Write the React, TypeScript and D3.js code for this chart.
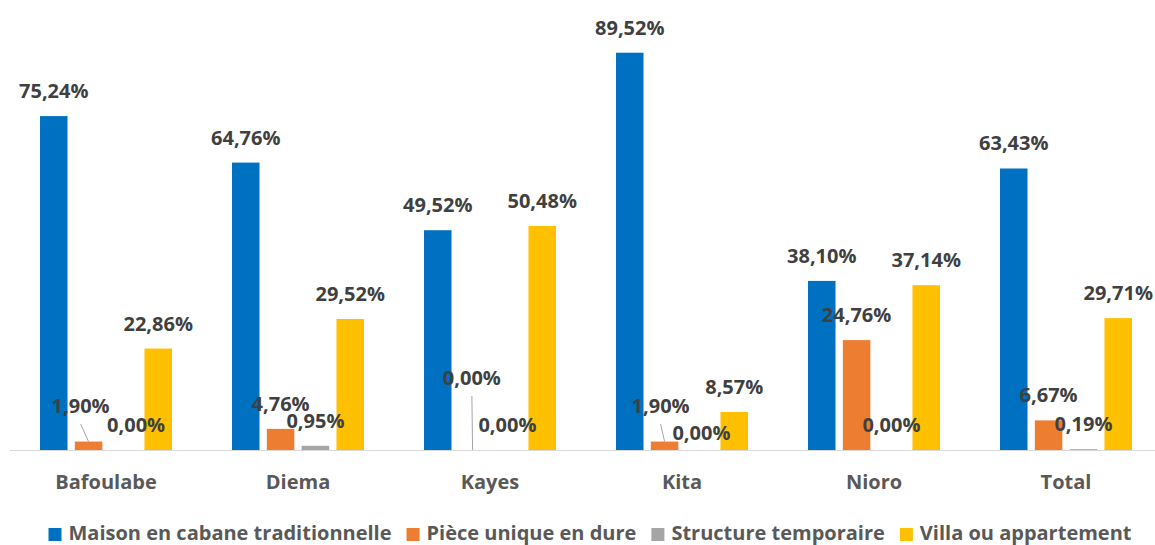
import React, { useRef, useLayoutEffect, useState } from 'react';
import * as d3 from 'd3';

const categories = ['Bafoulabe', 'Diema', 'Kayes', 'Kita', 'Nioro', 'Total'];
const seriesNames = [
  'Maison en cabane traditionnelle',
  'Pièce unique en dure',
  'Structure temporaire',
  'Villa ou appartement',
];
const maison = [75.24, 64.76, 49.52, 89.52, 38.1, 63.43];
const piece = [1.9, 4.76, 0.0, 1.9, 24.76, 6.67];
const structure = [0.0, 0.95, 0.0, 0.0, 0.0, 0.19];
const villa = [22.86, 29.52, 50.48, 8.57, 37.14, 29.71];
const seriesValues = [maison, piece, structure, villa];
const colors = ['#0070C0', '#ED7D31', '#A5A5A5', '#FFC000'];

// labels that were dragged by hand in the original, keyed "series-category"
const nudges: Record<string, { dx: number; dy: number; leader?: boolean }> = {
  '1-0': { dx: -8, dy: -10.6, leader: true },
  '2-0': { dx: 12.7, dy: 0 },
  '1-2': { dx: -0.7, dy: -47, leader: true },
  '1-3': { dx: -4, dy: -10.6, leader: true },
  '2-3': { dx: 2, dy: 8 },
};

const width = 1155;
const height = 545;
const baseY = 450;
const font = '"Open Sans", sans-serif';

const fmt = (v: number) => v.toFixed(2).replace('.', ',') + '%';

export default function App() {
  const legendRef = useRef<SVGGElement>(null);
  const [legendX, setLegendX] = useState<number[]>([54, 414, 654, 897]);

  const x0 = d3.scaleBand<string>().domain(categories).range([10, 1162]).padding(0);
  const x1 = d3
    .scaleBand<number>()
    .domain([0, 1, 2, 3])
    .range([x0.bandwidth() / 2 - 66, x0.bandwidth() / 2 + 66])
    .paddingInner(0.21);
  const y = d3.scaleLinear().domain([0, 100]).range([baseY, baseY - 443.8]);

  useLayoutEffect(() => {
    if (!legendRef.current) return;
    const texts = d3.select(legendRef.current).selectAll<SVGTextElement, unknown>('text').nodes();
    const widths = texts.map((t) => t.getComputedTextLength());
    const box = 13, gapIn = 7, gapOut = 15;
    const total = d3.sum(widths) + widths.length * (box + gapIn) + (widths.length - 1) * gapOut;
    let cur = 590 - total / 2;
    const xs: number[] = [];
    widths.forEach((w) => {
      xs.push(cur);
      cur += box + gapIn + w + gapOut;
    });
    setLegendX(xs);
  }, []);

  return (
    <svg
      width={width}
      height={height}
      style={{ position: 'absolute', left: 0, top: 0, background: '#fff' }}
      fontFamily={font}
      fontWeight={700}
    >
      <line x1={10} x2={width} y1={baseY + 0.5} y2={baseY + 0.5} stroke="#D9D9D9" strokeWidth={1} />

      {categories.map((c, ci) => (
        <g key={c} transform={`translate(${x0(c)},0)`}>
          {seriesValues.map((vals, si) => {
            const v = vals[ci];
            const bx = x1(si)!;
            const top = y(v);
            return (
              <rect key={si} x={bx} y={top} width={x1.bandwidth()} height={baseY - top} fill={colors[si]} />
            );
          })}
        </g>
      ))}

      {categories.map((c, ci) =>
        seriesValues.map((vals, si) => {
          const v = vals[ci];
          const cx = x0(c)! + x1(si)! + x1.bandwidth() / 2;
          const top = y(v);
          const n = nudges[`${si}-${ci}`] || { dx: 0, dy: 0 };
          const lx = cx + n.dx;
          const ly = top - 18 + n.dy;
          return (
            <g key={`${si}-${ci}`}>
              {n.leader && (
                <line x1={lx} y1={ly + 11} x2={cx} y2={top} stroke="#A6A6A6" strokeWidth={1} />
              )}
              <text x={lx} y={ly} textAnchor="middle" fontSize={20} fill="#404040">
                {fmt(v)}
              </text>
            </g>
          );
        })
      )}

      {categories.map((c) => (
        <text key={c} x={x0(c)! + x0.bandwidth() / 2} y={489} textAnchor="middle" fontSize={20} fill="#595959">
          {c}
        </text>
      ))}

      <g ref={legendRef}>
        {seriesNames.map((s, i) => (
          <g key={s}>
            <rect x={legendX[i]} y={528} width={13} height={13} fill={colors[i]} />
            <text x={legendX[i] + 20} y={540} fontSize={20} fill="#595959">
              {s}
            </text>
          </g>
        ))}
      </g>
    </svg>
  );
}
